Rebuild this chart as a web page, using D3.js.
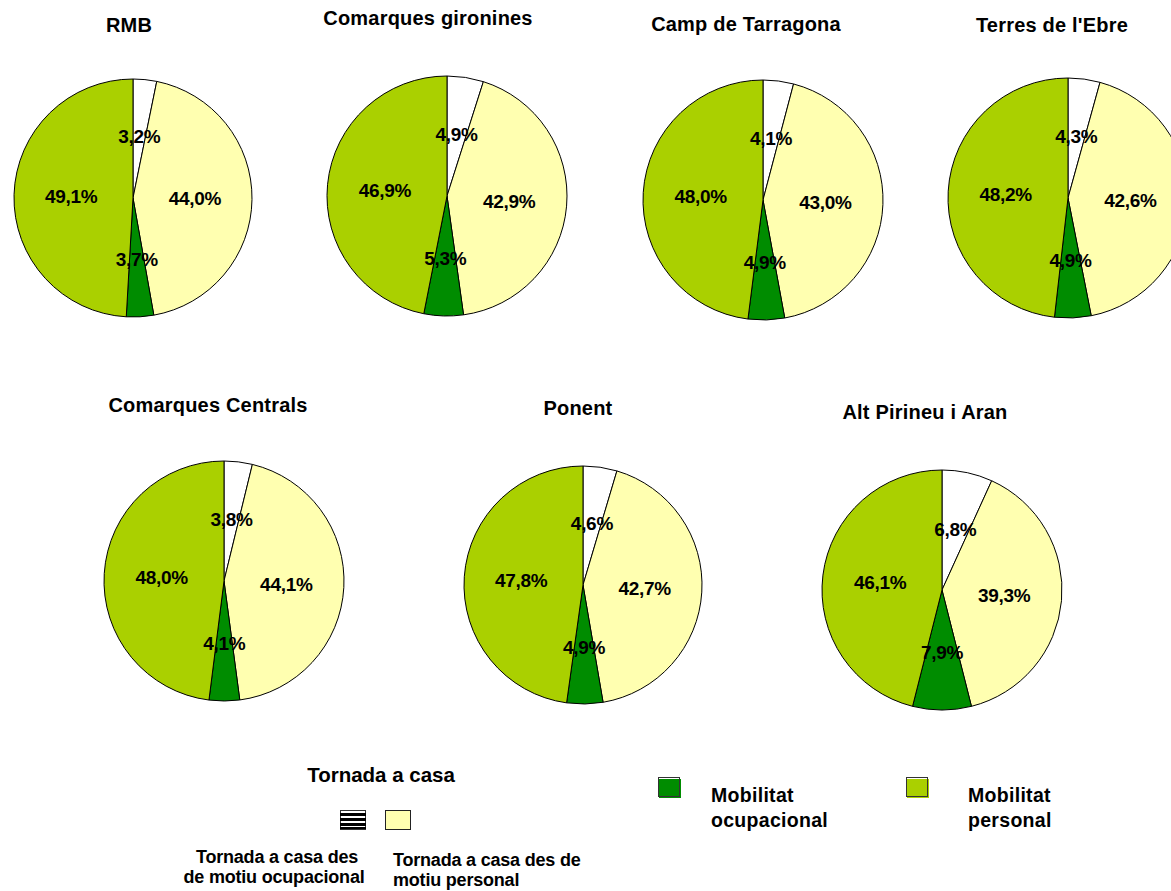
<!DOCTYPE html>
<html>
<head>
<meta charset="utf-8">
<script src="https://cdn.jsdelivr.net/npm/d3@7"></script>
<style>
  html, body { margin: 0; padding: 0; background: #fff; }
  svg { display: block; font-family: "Liberation Sans", Arial, sans-serif; font-weight: bold; }
</style>
</head>
<body>
<svg id="chart" width="1171" height="891"></svg>
<script>
// ---- data ----
const regions = ["RMB", "Comarques gironines", "Camp de Tarragona", "Terres de l'Ebre",
                 "Comarques Centrals", "Ponent", "Alt Pirineu i Aran"];
const categories = ["Tornada a casa des de motiu ocupacional", "Tornada a casa des de motiu personal",
                    "Mobilitat ocupacional", "Mobilitat personal"];
const tornadaOcupacional   = [3.2, 4.9, 4.1, 4.3, 3.8, 4.6, 6.8];
const tornadaPersonal      = [44.0, 42.9, 43.0, 42.6, 44.1, 42.7, 39.3];
const mobilitatOcupacional = [3.7, 5.3, 4.9, 4.9, 4.1, 4.9, 7.9];
const mobilitatPersonal    = [49.1, 46.9, 48.0, 48.2, 48.0, 47.8, 46.1];

// ---- layout ----
const colors = ["#ffffff", "#ffffb0", "#008c00", "#aad000"];
const pieLayout = [
  {cx: 133, cy: 198, r: 119, tx: 129, ty: 32},
  {cx: 447, cy: 196, r: 120, tx: 428, ty: 25},
  {cx: 763, cy: 200, r: 120, tx: 746, ty: 31},
  {cx: 1068, cy: 198, r: 120, tx: 1052, ty: 32},
  {cx: 224, cy: 581, r: 120, tx: 208, ty: 412},
  {cx: 583, cy: 585, r: 119, tx: 578, ty: 415},
  {cx: 942, cy: 590, r: 120, tx: 925, ty: 419}
];

const svg = d3.select("#chart");
const fmt = v => d3.format(".1f")(v).replace(".", ",") + "%";
const pie = d3.pie().sort(null).value(d => d.v);

regions.forEach((name, i) => {
  const L = pieLayout[i];
  const vals = [tornadaOcupacional[i], tornadaPersonal[i], mobilitatOcupacional[i], mobilitatPersonal[i]]
    .map((v, k) => ({v, k}));
  const arcs = pie(vals);
  const arc = d3.arc().innerRadius(0).outerRadius(L.r);
  const labelArc = d3.arc().innerRadius(L.r * 0.52).outerRadius(L.r * 0.52);
  const g = svg.append("g").attr("transform", `translate(${L.cx},${L.cy})`);
  g.selectAll("path").data(arcs).join("path")
    .attr("d", arc)
    .attr("fill", d => colors[d.data.k])
    .attr("stroke", "#000")
    .attr("stroke-width", 1);
  g.selectAll("text").data(arcs).join("text")
    .attr("transform", d => `translate(${labelArc.centroid(d)})`)
    .attr("text-anchor", "middle")
    .attr("dy", "0.35em")
    .attr("font-size", 19)
    .attr("letter-spacing", -0.3)
    .attr("fill", "#000")
    .text(d => fmt(d.data.v));
  svg.append("text")
    .attr("x", L.tx).attr("y", L.ty)
    .attr("text-anchor", "middle")
    .attr("font-size", 20)
    .attr("letter-spacing", 0.2)
    .text(name);
});

// ---- legend ----
const leg = svg.append("g");
leg.append("text").attr("x", 381).attr("y", 782).attr("text-anchor", "middle")
  .attr("font-size", 20.5).text("Tornada a casa");

// striped swatch (tornada ocupacional)
leg.append("rect").attr("x", 340.5).attr("y", 810.5).attr("width", 25).attr("height", 19)
  .attr("fill", "#fff").attr("stroke", "#333").attr("stroke-width", 1);
[813, 818, 823].forEach(y => {
  leg.append("rect").attr("x", 340).attr("y", y).attr("width", 26).attr("height", 3).attr("fill", "#000");
});
leg.append("rect").attr("x", 340).attr("y", 827).attr("width", 26).attr("height", 2).attr("fill", "#000");
// yellow swatch
leg.append("rect").attr("x", 385.5).attr("y", 810.5).attr("width", 25).attr("height", 19)
  .attr("fill", colors[1]).attr("stroke", "#222").attr("stroke-width", 1);

const lab1 = leg.append("text").attr("text-anchor", "middle").attr("font-size", 18).attr("letter-spacing", -0.2);
lab1.append("tspan").attr("x", 277).attr("y", 863).text("Tornada a casa  des");
lab1.append("tspan").attr("x", 274).attr("y", 883).text("de motiu ocupacional");
const lab2 = leg.append("text").attr("font-size", 18).attr("letter-spacing", -0.2);
lab2.append("tspan").attr("x", 393).attr("y", 866).text("Tornada a casa des de");
lab2.append("tspan").attr("x", 393).attr("y", 886).text("motiu personal");

// mobilitat swatches
[{x: 658, c: colors[2], t: ["Mobilitat", "ocupacional"], tx: 711},
 {x: 906, c: colors[3], t: ["Mobilitat", "personal"], tx: 968}].forEach(s => {
  leg.append("rect").attr("x", s.x + 1).attr("y", 779).attr("width", 22).attr("height", 19).attr("fill", s.c);
  leg.append("rect").attr("x", s.x + 0.5).attr("y", 777.5).attr("width", 21).attr("height", 19)
    .attr("fill", "none").attr("stroke", "#333").attr("stroke-width", 1);
  const t = leg.append("text").attr("font-size", 19.5).attr("letter-spacing", 0.3);
  t.append("tspan").attr("x", s.tx).attr("y", 802).text(s.t[0]);
  t.append("tspan").attr("x", s.tx).attr("y", 827).text(s.t[1]);
});
</script>
</body>
</html>
